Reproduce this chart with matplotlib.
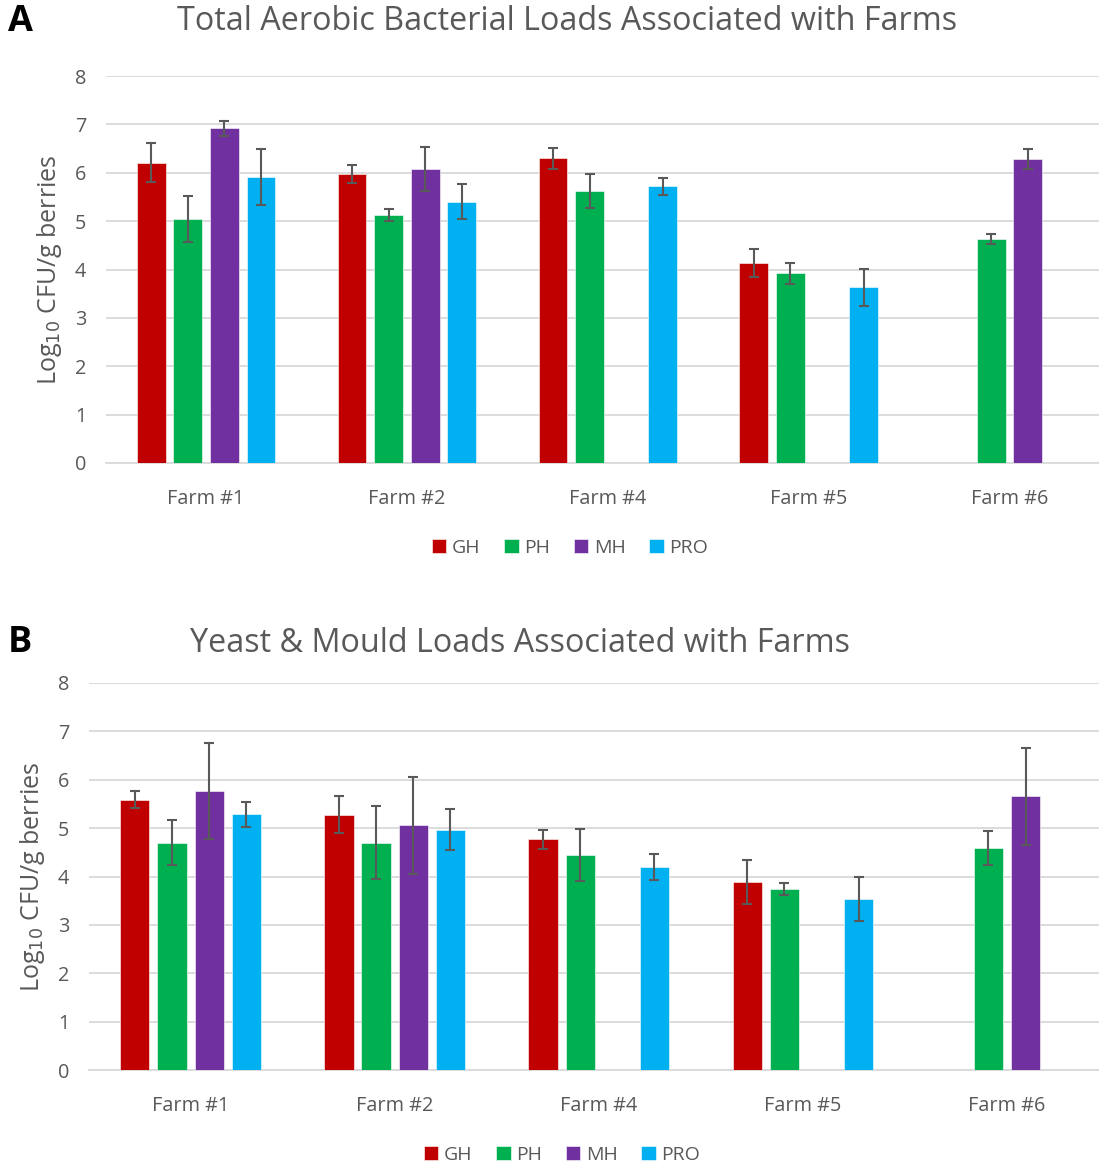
import numpy as np
import matplotlib
matplotlib.use("Agg")
import matplotlib.pyplot as plt

plt.rcParams['font.family'] = ['Open Sans', 'DejaVu Sans']

farms = ["Farm #1", "Farm #2", "Farm #4", "Farm #5", "Farm #6"]
series = ["GH", "PH", "MH", "PRO"]
colors = ["#C00000", "#00B050", "#7030A0", "#00B0F0"]
nan = np.nan

# Panel A: Total aerobic bacterial loads
a_GH = [6.21, 5.98, 6.30, 4.14, nan]
a_PH = [5.04, 5.13, 5.62, 3.92, 4.63]
a_MH = [6.92, 6.08, nan, nan, 6.29]
a_PRO = [5.92, 5.40, 5.72, 3.63, nan]
a_GH_err = [0.40, 0.19, 0.22, 0.29, nan]
a_PH_err = [0.48, 0.12, 0.35, 0.21, 0.10]
a_MH_err = [0.15, 0.46, nan, nan, 0.21]
a_PRO_err = [0.58, 0.36, 0.18, 0.39, nan]

# Panel B: Yeast & mould loads
b_GH = [5.59, 5.28, 4.77, 3.89, nan]
b_PH = [4.70, 4.70, 4.44, 3.74, 4.59]
b_MH = [5.77, 5.06, nan, nan, 5.66]
b_PRO = [5.29, 4.97, 4.20, 3.53, nan]
b_GH_err = [0.18, 0.39, 0.20, 0.45, nan]
b_PH_err = [0.47, 0.76, 0.54, 0.12, 0.36]
b_MH_err = [1.00, 1.00, nan, nan, 1.00]
b_PRO_err = [0.26, 0.43, 0.27, 0.45, nan]

W, H = 1099, 1166
fig = plt.figure(figsize=(W / 100, H / 100), dpi=100)
TXT = "#595959"


def panel(rect, vals, errs, title, letter, title_xy, letter_xy, leg_xy, ylab_x):
    l, t, r, b = rect
    ax = fig.add_axes([l / W, 1 - b / H, (r - l) / W, (b - t) / H])
    x = np.arange(len(farms))
    slot = 0.182
    width = 0.143
    for i, (v, e) in enumerate(zip(vals, errs)):
        off = (i - 1.5) * slot
        ax.bar(x + off, v, width, color=colors[i], label=series[i], zorder=3,
               edgecolor='white', linewidth=0.4)
        ax.errorbar(x + off, v, yerr=e, fmt='none', ecolor="#595959",
                    elinewidth=1.5, capsize=3.8, capthick=1.5, zorder=4)
    ax.set_xlim(-0.5, len(farms) - 0.5)
    ax.set_ylim(0, 8)
    ax.set_yticks(range(0, 9))
    ax.set_xticks(x)
    ax.set_xticklabels(farms)
    ax.grid(axis='y', color="#d9d9d9", linewidth=1.3, zorder=0)
    for s in ["top", "right", "left"]:
        ax.spines[s].set_visible(False)
    ax.spines["bottom"].set_color("#d9d9d9")
    ax.spines["bottom"].set_linewidth(1.3)
    ax.tick_params(axis='both', length=0, colors=TXT, labelsize=14.3)
    ax.tick_params(axis='x', pad=19)
    ax.tick_params(axis='y', pad=14)
    ax.set_ylabel("Log$_{10}$ CFU/g berries", fontsize=18, color=TXT)
    ax.yaxis.set_label_coords((ylab_x - l) / (r - l), 0.5)
    fig.text(title_xy[0] / W, 1 - title_xy[1] / H, title, fontsize=23.3, color=TXT,
             ha='center', va='center')
    fig.text(letter_xy[0] / W, 1 - letter_xy[1] / H, letter, fontsize=26,
             fontweight='bold', color='black', ha='left', va='center')
    hs, ls = ax.get_legend_handles_labels()
    leg = fig.legend(hs, ls, loc='center', bbox_to_anchor=(leg_xy[0] / W, 1 - leg_xy[1] / H),
                     bbox_transform=fig.transFigure,
                     ncol=4, frameon=False, fontsize=14, handlelength=0.75, handleheight=0.75,
                     handletextpad=0.3, columnspacing=1.2)
    for t_ in leg.get_texts():
        t_.set_color(TXT)
    return ax


panel((105.6, 76, 1110, 463), [a_GH, a_PH, a_MH, a_PRO],
      [a_GH_err, a_PH_err, a_MH_err, a_PRO_err],
      "Total Aerobic Bacterial Loads Associated with Farms", "A",
      (567, 22), (8, 22), (570, 548), 64)
panel((88.5, 683, 1109, 1070), [b_GH, b_PH, b_MH, b_PRO],
      [b_GH_err, b_PH_err, b_MH_err, b_PRO_err],
      "Yeast & Mould Loads Associated with Farms", "B",
      (520, 643), (8, 643), (562, 1155), 47)

fig.savefig("out.png", dpi=100)
